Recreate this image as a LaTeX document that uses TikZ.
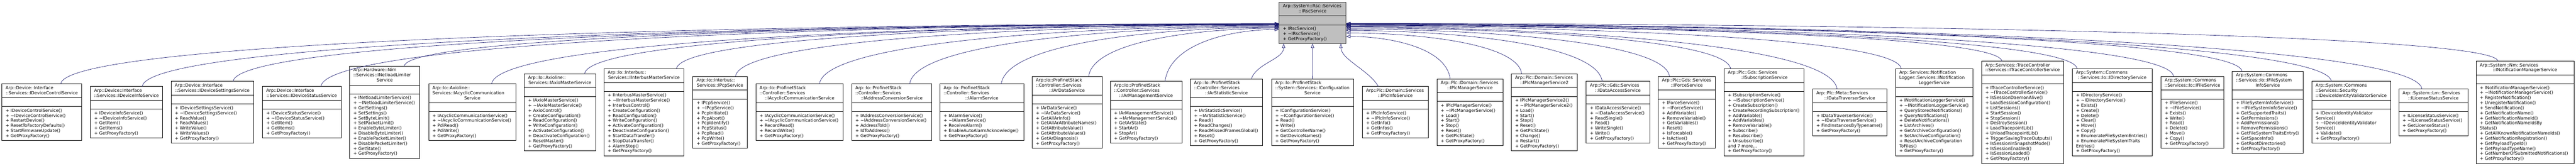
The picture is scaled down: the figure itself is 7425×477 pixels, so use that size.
\documentclass[tikz,border=0pt]{standalone}
\usepackage{fontspec}
\setmainfont{DejaVu Sans}
\usetikzlibrary{arrows.meta,calc}
\definecolor{edgeblue}{HTML}{191970}
\definecolor{pgray}{HTML}{BFBFBF}
\definecolor{pborder}{HTML}{404040}
\newcommand\clsfont{\fontsize{9.4}{10.95}\selectfont}
\newcommand\mytld{\textasciitilde}
\def\clscy{323.3}
\tikzset{
  clsbox/.style={draw=black, fill=white, line width=0.75pt, inner sep=0pt, outer sep=0pt, rectangle},
  pclsbox/.style={draw=pborder, fill=pgray, line width=0.75pt, inner sep=0pt, outer sep=0pt, rectangle},
  sepline/.style={draw=black, line width=0.75pt},
  txt/.style={inner sep=0pt, outer sep=0pt, font=\clsfont, text=black},
  inh/.style={draw=edgeblue, line width=0.75pt, -{Triangle[open, length=9.4pt, width=6.6pt]}}
}
% #1 style, #2 name, #3 left px, #4 right px, #5 title lines, #6 method lines,
% #7 left-aligned title lines, #8 centred last title line, #9 method lines
\newcommand\umlclass[9][clsbox]{%
  \pgfmathsetmacro\clsW{#4-#3}%
  \pgfmathsetmacro\clsH{(#5+#6)*14.6+46.5}%
  \pgfmathsetmacro\clsX{(#3+#4)/2}%
  \pgfmathsetmacro\clsA{#5*14.6+10.5}%
  \pgfmathsetmacro\clsB{\clsA+25.5}%
  \node[#1, minimum width=\clsW*0.75pt, minimum height=\clsH*0.75pt] (#2) at (\clsX,\clscy) {};%
  \draw[sepline] ([yshift=-\clsA*0.75pt]#2.north west) -- ([yshift=-\clsA*0.75pt]#2.north east);%
  \draw[sepline] ([yshift=-\clsB*0.75pt]#2.north west) -- ([yshift=-\clsB*0.75pt]#2.north east);%
  \foreach \lnx [count=\i from 0] in {#7}{\node[txt, anchor=base west] (#2-tl\i) at ([xshift=8.25pt, yshift={-(15.8+\i*14.6)*0.75}]#2.north west) {\lnx};}%
  \node[txt, anchor=base] (#2-tc) at ([yshift={-(15.8+(#5-1)*14.6)*0.75}]#2.north) {#8};%
  \foreach \lnx [count=\i from 0] in {#9}{\node[txt, anchor=base west] (#2-m\i) at ([xshift=8.25pt, yshift={-(\clsB+15.8+\i*14.6)*0.75}]#2.north west) {\lnx};}%
}
\begin{document}
\begin{tikzpicture}[x=0.75pt, y=-0.75pt]
\fill[white] (0,0) rectangle (7425,477);
\useasboundingbox (0,0) rectangle (7425,477);

% parent
\begin{scope}[sepline/.style={draw=pborder, line width=0.75pt}]
\def\clscy{65.75}
\umlclass[pclsbox]{P}{3686.7}{3880.0}{2}{3}{Arp::System::Rsc::Services}{::IRscService}{+ IRscService(),+ \mytld IRscService(),+ GetProxyFactory()}
\end{scope}

% children
\umlclass{n1}{5.2}{235.5}{2}{6}{Arp::Device::Interface}{::Services::IDeviceControlService}{+ IDeviceControlService(),+ \mytld IDeviceControlService(),+ RestartDevice(),+ ResetToFactoryDefaults(),+ StartFirmwareUpdate(),+ GetProxyFactory()}
\umlclass{n2}{260.6}{468.4}{2}{5}{Arp::Device::Interface}{::Services::IDeviceInfoService}{+ IDeviceInfoService(),+ \mytld IDeviceInfoService(),+ GetItem(),+ GetItems(),+ GetProxyFactory()}
\umlclass{n3}{493.0}{731.6}{2}{7}{Arp::Device::Interface}{::Services::IDeviceSettingsService}{+ IDeviceSettingsService(),+ \mytld IDeviceSettingsService(),+ ReadValue(),+ ReadValues(),+ WriteValue(),+ WriteValues(),+ GetProxyFactory()}
\umlclass{n4}{756.7}{983.0}{2}{5}{Arp::Device::Interface}{::Services::IDeviceStatusService}{+ IDeviceStatusService(),+ \mytld IDeviceStatusService(),+ GetItem(),+ GetItems(),+ GetProxyFactory()}
\umlclass{n5}{1007.4}{1210.0}{3}{12}{Arp::Hardware::Nim,::Services::INetloadLimiter}{Service}{+ INetloadLimiterService(),+ \mytld INetloadLimiterService(),+ GetSettings(),+ SetSettings(),+ SetByteLimit(),+ SetPacketLimit(),+ EnableByteLimiter(),+ DisableByteLimiter(),+ EnablePacketLimiter(),+ DisablePacketLimiter(),+ GetState(),+ GetProxyFactory()}
\umlclass{n6}{1235.5}{1486.8}{3}{5}{Arp::Io::Axioline::,Services::IAcyclicCommunication}{Service}{+ IAcyclicCommunicationService(),+ \mytld IAcyclicCommunicationService(),+ PdiRead(),+ PdiWrite(),+ GetProxyFactory()}
\umlclass{n7}{1511.4}{1716.5}{2}{10}{Arp::Io::Axioline::}{Services::IAxioMasterService}{+ IAxioMasterService(),+ \mytld IAxioMasterService(),+ AxioControl(),+ CreateConfiguration(),+ ReadConfiguration(),+ WriteConfiguration(),+ ActivateConfiguration(),+ DeactivateConfiguration(),+ ResetMaster(),+ GetProxyFactory()}
\umlclass{n8}{1740.7}{1971.8}{2}{12}{Arp::Io::Interbus::}{Services::IInterbusMasterService}{+ IInterbusMasterService(),+ \mytld IInterbusMasterService(),+ InterbusControl(),+ CreateConfiguration(),+ ReadConfiguration(),+ WriteConfiguration(),+ ActivateConfiguration(),+ DeactivateConfiguration(),+ StartDataTransfer(),+ StopDataTransfer(),+ AlarmStop(),+ GetProxyFactory()}
\umlclass{n9}{1996.9}{2154.0}{2}{9}{Arp::Io::Interbus::}{Services::IPcpService}{+ IPcpService(),+ \mytld IPcpService(),+ PcpInitiate(),+ PcpAbort(),+ PcpIdentify(),+ PcpStatus(),+ PcpRead(),+ PcpWrite(),+ GetProxyFactory()}
\umlclass{n10}{2178.6}{2430.4}{3}{5}{Arp::Io::ProfinetStack,::Controller::Services}{::IAcyclicCommunicationService}{+ IAcyclicCommunicationService(),+ \mytld IAcyclicCommunicationService(),+ RecordRead(),+ RecordWrite(),+ GetProxyFactory()}
\umlclass{n11}{2454.6}{2685.7}{3}{5}{Arp::Io::ProfinetStack,::Controller::Services}{::IAddressConversionService}{+ IAddressConversionService(),+ \mytld IAddressConversionService(),+ AddressToId(),+ IdToAddress(),+ GetProxyFactory()}
\umlclass{n12}{2709.0}{2950.6}{3}{5}{Arp::Io::ProfinetStack,::Controller::Services}{::IAlarmService}{+ IAlarmService(),+ \mytld IAlarmService(),+ ReceiveAlarm(),+ EnableAutoAlarmAcknowledge(),+ GetProxyFactory()}
\umlclass{n13}{2974.8}{3176.3}{3}{8}{Arp::Io::ProfinetStack,::Controller::Services}{::IArDataService}{+ IArDataService(),+ \mytld IArDataService(),+ GetAllArInfo(),+ GetAllArAttributeNames(),+ GetAttributeValue(),+ GetAttributeValues(),+ GetArDiagnosis(),+ GetProxyFactory()}
\umlclass{n14}{3200.2}{3406.4}{3}{6}{Arp::Io::ProfinetStack,::Controller::Services}{::IArManagementService}{+ IArManagementService(),+ \mytld IArManagementService(),+ GetArState(),+ StartAr(),+ StopAr(),+ GetProxyFactory()}
\umlclass{n15}{3430.8}{3639.4}{3}{7}{Arp::Io::ProfinetStack,::Controller::Services}{::IArStatisticService}{+ IArStatisticService(),+ \mytld IArStatisticService(),+ Read(),+ ReadChanges(),+ ReadMissedFramesGlobal(),+ Reset(),+ GetProxyFactory()}
\umlclass{n16}{3664.8}{3901.4}{3}{7}{Arp::Io::ProfinetStack,::System::Services::IConfiguration}{Service}{+ IConfigurationService(),+ \mytld IConfigurationService(),+ Read(),+ Write(),+ GetControllerName(),+ GetDeviceNames(),+ GetProxyFactory()}
\umlclass{n17}{3926.7}{4117.1}{2}{5}{Arp::Plc::Domain::Services}{::IPlcInfoService}{+ IPlcInfoService(),+ \mytld IPlcInfoService(),+ GetInfo(),+ GetInfos(),+ GetProxyFactory()}
\umlclass{n18}{4141.4}{4332.2}{2}{8}{Arp::Plc::Domain::Services}{::IPlcManagerService}{+ IPlcManagerService(),+ \mytld IPlcManagerService(),+ Load(),+ Start(),+ Stop(),+ Reset(),+ GetPlcState(),+ GetProxyFactory()}
\umlclass{n19}{4356.2}{4546.4}{2}{10}{Arp::Plc::Domain::Services}{::IPlcManagerService2}{+ IPlcManagerService2(),+ \mytld IPlcManagerService2(),+ Load(),+ Start(),+ Stop(),+ Reset(),+ GetPlcState(),+ Change(),+ Restart(),+ GetProxyFactory()}
\umlclass{n20}{4571.7}{4755.0}{2}{7}{Arp::Plc::Gds::Services}{::IDataAccessService}{+ IDataAccessService(),+ \mytld IDataAccessService(),+ ReadSingle(),+ Read(),+ WriteSingle(),+ Write(),+ GetProxyFactory()}
\umlclass{n21}{4779.4}{4944.4}{2}{9}{Arp::Plc::Gds::Services}{::IForceService}{+ IForceService(),+ \mytld IForceService(),+ AddVariable(),+ RemoveVariable(),+ GetVariables(),+ Reset(),+ IsForcable(),+ IsActive(),+ GetProxyFactory()}
\umlclass{n22}{4969.3}{5199.9}{2}{12}{Arp::Plc::Gds::Services}{::ISubscriptionService}{+ ISubscriptionService(),+ \mytld ISubscriptionService(),+ CreateSubscription(),+ CreateRecordingSubscription(),+ AddVariable(),+ AddVariables(),+ RemoveVariable(),+ Subscribe(),+ Resubscribe(),+ Unsubscribe(),and 7 more.{}.{}.,+ GetProxyFactory()}
\umlclass{n23}{5224.5}{5438.2}{2}{4}{Arp::Plc::Meta::Services}{::IDataTraverserService}{+ IDataTraverserService(),+ \mytld IDataTraverserService(),+ FindInstancesByTypename(),+ GetProxyFactory()}
\umlclass{n24}{5463.4}{5686.7}{3}{11}{Arp::Services::Notification,Logger::Services::INotification}{LoggerService}{+ INotificationLoggerService(),+ \mytld INotificationLoggerService(),+ QueryStoredNotifications(),+ QueryNotifications(),+ DeleteNotifications(),+ ListArchives(),+ GetArchiveConfiguration(),+ SetArchiveConfiguration(),+ ResetArchiveConfiguration,ToFiles(),+ GetProxyFactory()}
\umlclass{n25}{5711.4}{5948.3}{2}{15}{Arp::Services::TraceController}{::Services::ITraceControllerService}{+ ITraceControllerService(),+ \mytld ITraceControllerService(),+ IsSessionDaemonAlive(),+ LoadSessionConfiguration(),+ ListSessions(),+ StartSession(),+ StopSession(),+ DestroySession(),+ LoadTracepointLib(),+ UnloadTracepointLib(),+ TriggerSavingTraceOutputs(),+ IsSessionInSnapshotMode(),+ IsSessionEnabled(),+ IsSessionLoaded(),+ GetProxyFactory()}
\umlclass{n26}{5973.0}{6203.4}{2}{12}{Arp::System::Commons}{::Services::Io::IDirectoryService}{+ IDirectoryService(),+ \mytld IDirectoryService(),+ Exists(),+ Create(),+ Delete(),+ Clear(),+ Move(),+ Copy(),+ EnumerateFileSystemEntries(),+ EnumerateFileSystemTraits,Entries(),+ GetProxyFactory()}
\umlclass{n27}{6228.6}{6410.1}{2}{9}{Arp::System::Commons}{::Services::Io::IFileService}{+ IFileService(),+ \mytld IFileService(),+ Exists(),+ Write(),+ Read(),+ Delete(),+ Move(),+ Copy(),+ GetProxyFactory()}
\umlclass{n28}{6433.9}{6639.1}{3}{10}{Arp::System::Commons,::Services::Io::IFileSystem}{InfoService}{+ IFileSystemInfoService(),+ \mytld IFileSystemInfoService(),+ GetSupportedTraits(),+ GetPermissions(),+ AddPermissions(),+ RemovePermissions(),+ GetFileSystemTraitsEntry(),+ GetSpaceInfo(),+ GetRootDirectories(),+ GetProxyFactory()}
\umlclass{n29}{6663.3}{6890.2}{3}{6}{Arp::System::Commons,::Services::Security}{::IDeviceIdentityValidatorService}{+ IDeviceIdentityValidator,Service(),+ \mytld IDeviceIdentityValidator,Service(),+ Validate(),+ GetProxyFactory()}
\umlclass{n30}{6914.2}{7113.1}{2}{4}{Arp::System::Lm::Services}{::ILicenseStatusService}{+ ILicenseStatusService(),+ \mytld ILicenseStatusService(),+ GetLicenseStatus(),+ GetProxyFactory()}
\umlclass{n31}{7136.6}{7418.8}{2}{15}{Arp::System::Nm::Services}{::INotificationManagerService}{+ INotificationManagerService(),+ \mytld INotificationManagerService(),+ RegisterNotification(),+ UnregisterNotification(),+ SendNotification(),+ GetNotificationName(),+ GetNotificationNameId(),+ GetNotificationNameIdsBy,Status(),+ GetAllKnownNotificationNameIds(),+ GetNotificationRegistration(),+ GetPayloadTypeId(),+ GetPayloadTypeName(),+ GetNumberOfSubmittedNotifications(),+ GetProxyFactory()}

% inheritance edges, left side
\draw[inh] ([xshift=54.65*0.75pt]n1.north) .. controls +(17.4,-130.2) and +(-1404.7,0) .. ([yshift=-2.25*0.75pt]P.west);
\draw[inh] ([xshift=45.5*0.75pt]n2.north) .. controls +(18,-135.3) and +(-1310.7,0) .. ([yshift=-2.75*0.75pt]P.west);
\draw[inh] ([xshift=59.7*0.75pt]n3.north) .. controls +(16.5,-124) and +(-1205.9,0) .. ([yshift=-3.25*0.75pt]P.west);
\draw[inh] ([xshift=55.15*0.75pt]n4.north) .. controls +(17.9,-134.6) and +(-1104.7,0) .. ([yshift=-3.75*0.75pt]P.west);
\draw[inh] ([xshift=56.3*0.75pt]n5.north) .. controls +(12.1,-90.4) and +(-1008.7,0) .. ([yshift=-4.25*0.75pt]P.west);
\draw[inh] ([xshift=55.85*0.75pt]n6.north) .. controls +(17.1,-128.4) and +(-907.9,0) .. ([yshift=-4.75*0.75pt]P.west);
\draw[inh] ([xshift=71.05*0.75pt]n7.north) .. controls +(14.1,-106.1) and +(-800.7,0) .. ([yshift=-5.25*0.75pt]P.west);
\draw[inh] ([xshift=93.75*0.75pt]n8.north) .. controls +(12.6,-94.8) and +(-694.7,0) .. ([yshift=-5.75*0.75pt]P.west);
\draw[inh] ([xshift=44.55*0.75pt]n9.north) .. controls +(14.7,-110.1) and +(-626.7,0) .. ([yshift=-7.25*0.75pt]P.west);
\draw[inh] ([xshift=57.5*0.75pt]n10.north) .. controls +(16.7,-125) and +(-529.9,0) .. ([yshift=-9.25*0.75pt]P.west);
\draw[inh] ([xshift=51.85*0.75pt]n11.north) .. controls +(16.5,-123.5) and +(-425.9,0) .. ([yshift=-11.25*0.75pt]P.west);
\draw[inh] ([xshift=56.2*0.75pt]n12.north) .. controls +(16.3,-122) and +(-320.3,0) .. ([yshift=-13.25*0.75pt]P.west);
\draw[inh] ([xshift=62.45*0.75pt]n13.north) .. controls +(13.8,-103.7) and +(-219.5,0) .. ([yshift=-15.75*0.75pt]P.west);
\draw[inh] ([xshift=54.7*0.75pt]n14.north) .. controls +(14.9,-112) and +(-131.5,0) .. ([yshift=-19.25*0.75pt]P.west);
% bottom
\draw[inh] ([xshift=71.9*0.75pt]n15.north) .. controls +(15,-45) and +(0,45) .. ([xshift=13.3*0.75pt]P.south west);
\draw[inh] (n16.north) -- (P.south);
\draw[inh] ([xshift=-49.2*0.75pt]n17.north) .. controls +(-25,-45) and +(0,45) .. ([xshift=-15*0.75pt]P.south east);
% right side
\draw[inh] ([xshift=-56.8*0.75pt]n18.north) .. controls +(-12.2,-91.5) and +(120,0) .. ([yshift=-39.25*0.75pt]P.east);
\draw[inh] ([xshift=-65.3*0.75pt]n19.north) .. controls +(-11.7,-88.1) and +(202.4,0) .. ([yshift=-29.25*0.75pt]P.east);
\draw[inh] ([xshift=-45.35*0.75pt]n20.north) .. controls +(-14.6,-109.8) and +(295.2,0) .. ([yshift=-22.25*0.75pt]P.east);
\draw[inh] ([xshift=-49.9*0.75pt]n21.north) .. controls +(-13.6,-101.8) and +(372.8,0) .. ([yshift=-18.25*0.75pt]P.east);
\draw[inh] ([xshift=-96.6*0.75pt]n22.north) .. controls +(-11.7,-87.6) and +(443.2,0) .. ([yshift=-15.25*0.75pt]P.east);
\draw[inh] ([xshift=-36.35*0.75pt]n23.north) .. controls +(-17.8,-133.3) and +(566,0) .. ([yshift=-12.75*0.75pt]P.east);
\draw[inh] ([xshift=-95.05*0.75pt]n24.north) .. controls +(-12.1,-91) and +(640,0) .. ([yshift=-10.75*0.75pt]P.east);
\draw[inh] ([xshift=-59.85*0.75pt]n25.north) .. controls +(-10.1,-76.1) and +(756,0) .. ([yshift=-8.75*0.75pt]P.east);
\draw[inh] ([xshift=-101.2*0.75pt]n26.north) .. controls +(-12.5,-93.6) and +(842.8,0) .. ([yshift=-7.25*0.75pt]P.east);
\draw[inh] ([xshift=-54.35*0.75pt]n27.north) .. controls +(-14.8,-111.2) and +(954,0) .. ([yshift=-5.75*0.75pt]P.east);
\draw[inh] ([xshift=-74.5*0.75pt]n28.north) .. controls +(-13.5,-101) and +(1032.8,0) .. ([yshift=-4.75*0.75pt]P.east);
\draw[inh] ([xshift=-56.75*0.75pt]n29.north) .. controls +(-16.5,-123.6) and +(1136,0) .. ([yshift=-3.75*0.75pt]P.east);
\draw[inh] ([xshift=-32.65*0.75pt]n30.north) .. controls +(-18.8,-140.8) and +(1240.4,0) .. ([yshift=-2.75*0.75pt]P.east);
\draw[inh] ([xshift=-77.7*0.75pt]n31.north) .. controls +(-10.8,-81.3) and +(1328,0) .. ([yshift=-1.75*0.75pt]P.east);
\end{tikzpicture}
\end{document}
